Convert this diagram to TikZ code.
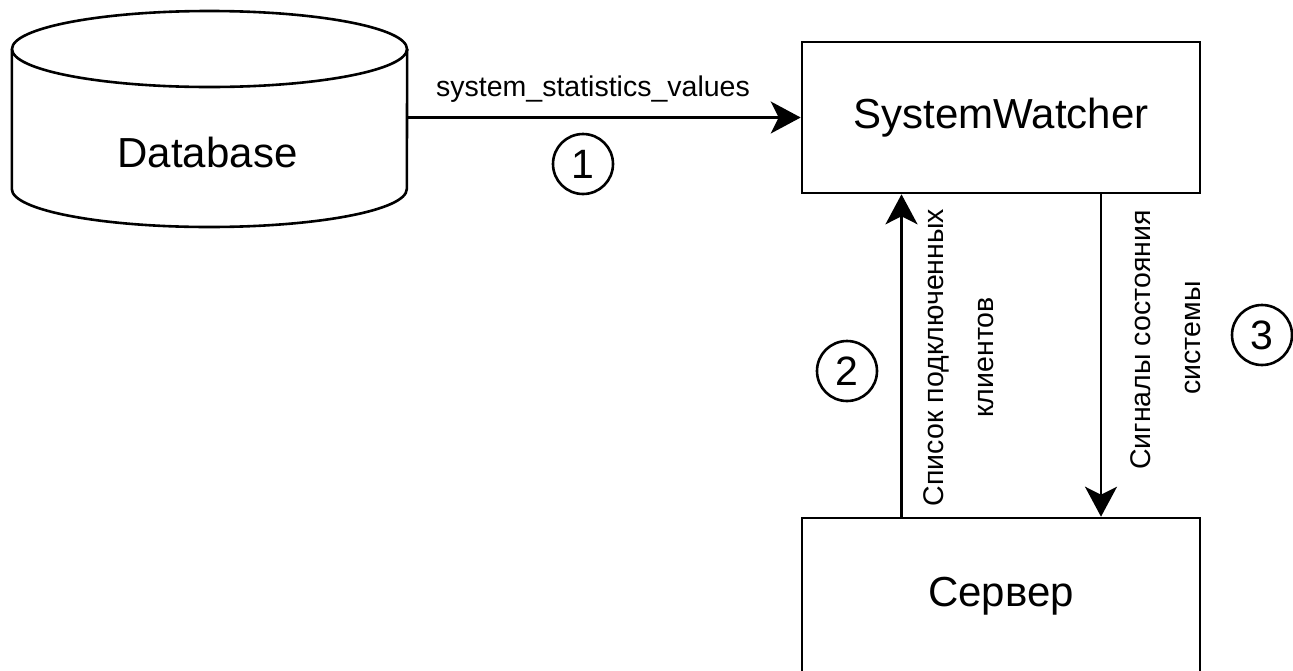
\documentclass[tikz,border=0pt]{standalone}
\usepackage{fontspec}
\setmainfont{Liberation Sans}
\usetikzlibrary{arrows.meta}

\begin{document}
\begin{tikzpicture}[x=1pt, y=-1pt,
  stroke/.style={line width=2.6pt, draw=black},
  block/.style={stroke, rectangle, inner sep=0pt, minimum width=398pt},
  bigtext/.style={font=\fontsize{42}{50}\selectfont},
  smalltext/.style={font=\fontsize{28.5}{34}\selectfont},
  num/.style={stroke, circle, inner sep=0pt, minimum size=60pt, font=\fontsize{41}{46}\selectfont},
  vlabel/.style={smalltext, rotate=90, anchor=base, inner sep=0pt},
  arr/.style={stroke, -{Stealth[length=30pt, width=32pt, inset=8pt]}},
]
\useasboundingbox (0,0) rectangle (1293,670);
\clip (0,0) rectangle (1293,670);

% database cylinder
\node[minimum width=395pt, minimum height=216pt, inner sep=0pt] (db) at (209.5,119) {};
\draw[stroke] (db.north west |- 0,49) -- (db.north west |- 0,189)
  arc[start angle=180, end angle=0, x radius=197.5, y radius=38]
  -- (db.north east |- 0,49);
\draw[stroke, fill=white] (db.north |- 0,49) ellipse [x radius=197.5, y radius=38];
\node[bigtext, anchor=base, inner sep=0pt] (dbtext) at (207.5,167) {Database};

% components
\node[block, minimum height=151pt, bigtext] (sw) at (1001,117.5) {SystemWatcher};
\node[block, minimum height=156pt, bigtext] (srv) at (1001,596) {Сервер};

% flow 1
\draw[arr] (sw.west -| db.east) -- (sw.west);
\node[smalltext, anchor=base, inner sep=0pt] (lbl1) at (593,96) {system\_statistics\_values};
\node[num] (n1) at (583,164) {1};

% flow 2
\draw[arr] ([xshift=-99.5pt]srv.north) -- ([xshift=-99.5pt]sw.south);
\node[vlabel] (lbl2a) at (943,357.5) {Список подключенных};
\node[vlabel] (lbl2b) at (993,357.5) {клиентов};
\node[num] (n2) at (847,371) {2};

% flow 3
\draw[arr] ([xshift=100pt]sw.south) -- ([xshift=100pt]srv.north);
\node[vlabel] (lbl3a) at (1150,340) {Сигналы состояния};
\node[vlabel] (lbl3b) at (1200,338) {системы};
\node[num] (n3) at (1262,335) {3};
\end{tikzpicture}
\end{document}
